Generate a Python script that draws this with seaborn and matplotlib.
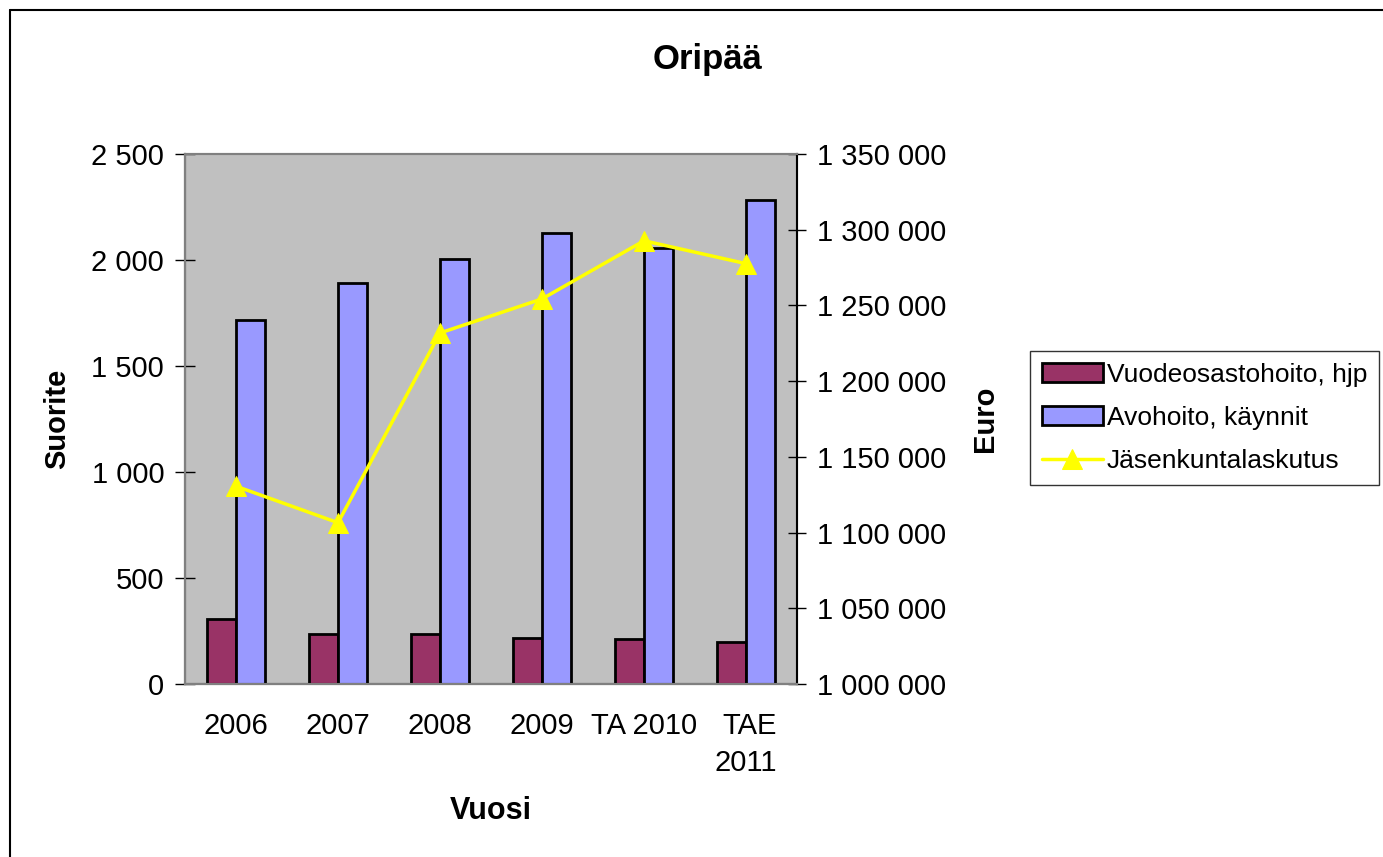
import numpy as np
import pandas as pd
import matplotlib
matplotlib.use("Agg")
import matplotlib.pyplot as plt
from matplotlib.ticker import FuncFormatter
import seaborn as sns

# data
years = ["2006", "2007", "2008", "2009", "TA 2010", "TAE 2011"]
year_labels = ["2006", "2007", "2008", "2009", "TA 2010", "TAE\n2011"]
vuodeosasto = [308, 237, 237, 218, 213, 196]
avohoito = [1715, 1893, 2003, 2125, 2057, 2281]
laskutus = [1130600, 1106500, 1231800, 1254300, 1292700, 1277600]

series_names = ["Vuodeosastohoito, hjp", "Avohoito, käynnit"]
bar_colors = ["#993366", "#9999FF"]

sns.set_style("white", rc={"text.color": "black", "axes.labelcolor": "black",
                           "xtick.color": "black", "ytick.color": "black"})
plt.rcParams["font.family"] = ["Liberation Sans", "DejaVu Sans"]

df = pd.DataFrame({
    "Vuosi": years * 2,
    "Suorite": vuodeosasto + avohoito,
    "sarja": [series_names[0]] * 6 + [series_names[1]] * 6,
})
line_df = pd.DataFrame({"Vuosi": years, "Euro": laskutus})

fig = plt.figure(figsize=(13.83, 8.57), dpi=100)
ax = fig.add_axes([185 / 1383, 1 - 684 / 857, 612 / 1383, 530 / 857])
ax.set_facecolor("#C0C0C0")

sns.barplot(data=df, x="Vuosi", y="Suorite", hue="sarja", order=years,
            hue_order=series_names, palette=bar_colors, width=0.57,
            edgecolor="black", linewidth=2, saturation=1, ax=ax)
ax.set_xlim(-0.5, 5.5)
ax.set_ylim(0, 2500)
ax.set_yticks(np.arange(0, 2501, 500))

fmt = FuncFormatter(lambda v, p: f"{int(v):,}".replace(",", " "))
ax.yaxis.set_major_formatter(fmt)

ax2 = ax.twinx()
sns.lineplot(data=line_df, x="Vuosi", y="Euro", sort=False, color="#FFFF00",
             linewidth=2.5, marker="^", markersize=15, markeredgecolor="#FFFF00",
             ax=ax2, label="Jäsenkuntalaskutus")
ax2.set_ylim(1000000, 1350000)
ax2.set_yticks(np.arange(1000000, 1350001, 50000))
ax2.yaxis.set_major_formatter(fmt)
ax2.set_xlim(-0.5, 5.5)

# x ticks: labels in the middle, tick marks on the boundaries
ax.set_xticks(range(len(years)))
ax.set_xticklabels(year_labels, fontsize=21, multialignment="right", linespacing=1.4)
ax.set_xticks(np.arange(-0.5, 6, 1), minor=True)
ax.tick_params(axis="x", which="major", length=0, pad=20)
ax.tick_params(axis="x", which="minor", length=8, width=1, direction="out")
ax.tick_params(axis="y", labelsize=21, length=14, width=1, direction="inout",
               left=True, pad=8)
ax2.tick_params(axis="y", labelsize=21, length=13, width=1, direction="inout",
                right=True, pad=8)

for a in (ax, ax2):
    for s in a.spines.values():
        s.set_color("#808080")
        s.set_linewidth(1.5)
ax.spines["left"].set_color("black")
ax.spines["bottom"].set_color("black")
ax2.spines["right"].set_color("black")

ax.set_xlabel("Vuosi", fontsize=22, fontweight="bold", va="center")
ax.xaxis.set_label_coords(0.5, (684 - 811) / 530)
ax.set_ylabel("Suorite", fontsize=21, fontweight="bold", va="center")
ax.yaxis.set_label_coords((57 - 185) / 612, 0.5)
ax2.set_ylabel("Euro", fontsize=21, fontweight="bold", va="center")
ax2.yaxis.set_label_coords((985 - 185) / 612, 0.5)
fig.text(707 / 1383, 1 - 60 / 857, "Oripää", fontsize=25, fontweight="bold",
         ha="center", va="center")

# legend outside, cut by the figure edge like the original
h1, l1 = ax.get_legend_handles_labels()
h2, l2 = ax2.get_legend_handles_labels()
ax.get_legend().remove()
if ax2.get_legend() is not None:
    ax2.get_legend().remove()
leg = fig.legend(h1 + h2, l1 + l2, loc="upper left",
                 bbox_to_anchor=(1030 / 1383, 1 - 351 / 857), fontsize=19,
                 frameon=True, fancybox=False, edgecolor="black",
                 handlelength=2.3, handleheight=0.7, handletextpad=0.15,
                 labelspacing=0.72, borderpad=0.45, borderaxespad=0)
leg.get_frame().set_linewidth(1)

# chart border
fig.add_artist(plt.Line2D([10 / 1383, 10 / 1383], [0, 1 - 10 / 857], color="black", lw=1.5))
fig.add_artist(plt.Line2D([10 / 1383, 1], [1 - 10 / 857, 1 - 10 / 857], color="black", lw=1.5))

fig.savefig("out.png", dpi=100)
